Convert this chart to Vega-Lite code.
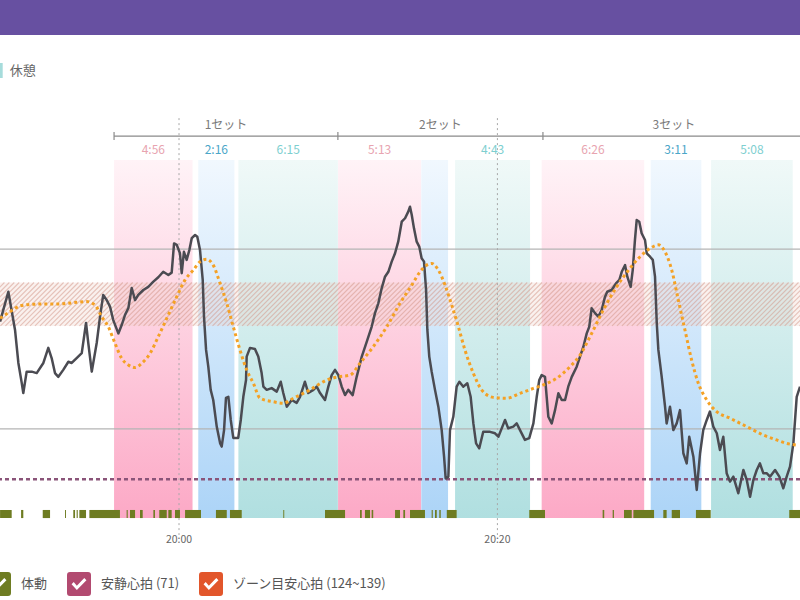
{
  "$schema": "https://vega.github.io/schema/vega-lite/v6.json",
  "width": 800,
  "height": 600,
  "autosize": {"type": "none"},
  "padding": 0,
  "background": "white",
  "datasets": {
    "phases": [
      {"type": "運動", "start": -4.08, "end": 0.85, "label": "4:56"},
      {"type": "インターバル", "start": 1.21, "end": 3.48, "label": "2:16"},
      {"type": "休憩", "start": 3.73, "end": 9.98, "label": "6:15"},
      {"type": "運動", "start": 9.99, "end": 15.21, "label": "5:13"},
      {"type": "インターバル", "start": 15.22, "end": 16.9, "label": null},
      {"type": "休憩", "start": 17.34, "end": 22.05, "label": "4:43"},
      {"type": "運動", "start": 22.78, "end": 29.22, "label": "6:26"},
      {"type": "インターバル", "start": 29.63, "end": 32.81, "label": "3:11"},
      {"type": "休憩", "start": 33.42, "end": 38.55, "label": "5:08"}
    ],
    "sets": [
      {"set": "1セット", "start": -4.08, "end": 9.98},
      {"set": "2セット", "start": 9.98, "end": 22.86},
      {"set": "3セット", "start": 22.86, "end": 39.3}
    ],
    "moves": [
      {"start": -11.24, "end": -10.51}, {"start": -9.92, "end": -9.78}, {"start": -8.56, "end": -8.1},
      {"start": -7.16, "end": -7.1}, {"start": -6.64, "end": -6.53}, {"start": -6.43, "end": -6.36},
      {"start": -6.26, "end": -5.84}, {"start": -5.63, "end": -3.71}, {"start": -3.29, "end": -3.22},
      {"start": -3.08, "end": -2.76}, {"start": -2.45, "end": -2.28}, {"start": -1.61, "end": -1.51},
      {"start": -1.24, "end": -0.77}, {"start": -0.67, "end": -0.46}, {"start": -0.25, "end": 0.06},
      {"start": 0.38, "end": 1.38}, {"start": 2.32, "end": 3.0}, {"start": 3.2, "end": 3.94},
      {"start": 6.55, "end": 6.61}, {"start": 9.17, "end": 10.43}, {"start": 11.37, "end": 11.48},
      {"start": 11.68, "end": 12.0}, {"start": 12.1, "end": 12.2}, {"start": 13.57, "end": 13.88},
      {"start": 14.09, "end": 14.2}, {"start": 14.51, "end": 15.45}, {"start": 15.87, "end": 15.94},
      {"start": 16.08, "end": 16.19}, {"start": 16.35, "end": 16.44}, {"start": 16.82, "end": 17.44},
      {"start": 22.0, "end": 22.99}, {"start": 26.61, "end": 26.71}, {"start": 27.24, "end": 27.32},
      {"start": 27.95, "end": 28.44}, {"start": 28.54, "end": 29.84}, {"start": 30.42, "end": 30.63},
      {"start": 30.95, "end": 31.47}, {"start": 32.47, "end": 33.4}, {"start": 38.33, "end": 39.01}
    ],
    "hr": [
      {"t": -11.24, "hr": 125.5}, {"t": -10.72, "hr": 135.8}, {"t": -10.3, "hr": 122.6}, {"t": -10.09, "hr": 111.2},
      {"t": -9.88, "hr": 104.3}, {"t": -9.78, "hr": 100.8}, {"t": -9.57, "hr": 108.2}, {"t": -9.25, "hr": 108.2},
      {"t": -8.94, "hr": 107.7}, {"t": -8.52, "hr": 111.2}, {"t": -8.21, "hr": 116.4}, {"t": -8.0, "hr": 112.9},
      {"t": -7.79, "hr": 107.7}, {"t": -7.58, "hr": 106.4}, {"t": -7.27, "hr": 108.8}, {"t": -6.95, "hr": 111.6},
      {"t": -6.74, "hr": 111.2}, {"t": -6.43, "hr": 112.9}, {"t": -6.11, "hr": 114.6}, {"t": -5.84, "hr": 125.0},
      {"t": -5.7, "hr": 118.1}, {"t": -5.48, "hr": 108.2}, {"t": -5.17, "hr": 118.1}, {"t": -4.96, "hr": 127.2},
      {"t": -4.76, "hr": 134.7}, {"t": -4.54, "hr": 132.9}, {"t": -4.33, "hr": 130.6}, {"t": -4.13, "hr": 126.0},
      {"t": -3.81, "hr": 121.4}, {"t": -3.6, "hr": 124.3}, {"t": -3.39, "hr": 127.8}, {"t": -3.18, "hr": 130.2},
      {"t": -2.97, "hr": 137.1}, {"t": -2.76, "hr": 132.9}, {"t": -2.56, "hr": 134.7}, {"t": -2.24, "hr": 136.4},
      {"t": -1.93, "hr": 137.5}, {"t": -1.61, "hr": 139.3}, {"t": -1.3, "hr": 140.8}, {"t": -0.99, "hr": 142.7},
      {"t": -0.67, "hr": 141.6}, {"t": -0.46, "hr": 142.4}, {"t": -0.31, "hr": 152.5}, {"t": -0.14, "hr": 152.0},
      {"t": 0.06, "hr": 149.1}, {"t": 0.17, "hr": 142.2}, {"t": 0.31, "hr": 149.6}, {"t": 0.48, "hr": 146.8},
      {"t": 0.65, "hr": 150.2}, {"t": 0.8, "hr": 154.3}, {"t": 1.01, "hr": 155.4}, {"t": 1.15, "hr": 154.8},
      {"t": 1.32, "hr": 150.2}, {"t": 1.49, "hr": 139.9}, {"t": 1.57, "hr": 127.2}, {"t": 1.7, "hr": 115.7},
      {"t": 1.84, "hr": 109.9}, {"t": 1.99, "hr": 101.9}, {"t": 2.15, "hr": 98.4}, {"t": 2.37, "hr": 89.2},
      {"t": 2.58, "hr": 83.5}, {"t": 2.68, "hr": 82.3}, {"t": 2.83, "hr": 88.0}, {"t": 2.95, "hr": 99.1},
      {"t": 3.1, "hr": 99.5}, {"t": 3.25, "hr": 91.5}, {"t": 3.41, "hr": 85.3}, {"t": 3.72, "hr": 85.3},
      {"t": 3.88, "hr": 91.5}, {"t": 4.04, "hr": 99.5}, {"t": 4.21, "hr": 105.3}, {"t": 4.25, "hr": 113.4},
      {"t": 4.46, "hr": 116.4}, {"t": 4.77, "hr": 116.0}, {"t": 4.98, "hr": 113.4}, {"t": 5.19, "hr": 107.7},
      {"t": 5.3, "hr": 103.0}, {"t": 5.51, "hr": 101.9}, {"t": 5.82, "hr": 102.5}, {"t": 6.14, "hr": 101.3},
      {"t": 6.39, "hr": 104.7}, {"t": 6.55, "hr": 100.8}, {"t": 6.77, "hr": 96.1}, {"t": 7.08, "hr": 98.4},
      {"t": 7.39, "hr": 97.4}, {"t": 7.6, "hr": 99.5}, {"t": 7.91, "hr": 104.7}, {"t": 8.12, "hr": 100.8},
      {"t": 8.44, "hr": 101.9}, {"t": 8.65, "hr": 103.0}, {"t": 8.86, "hr": 100.8}, {"t": 9.17, "hr": 98.4},
      {"t": 9.38, "hr": 103.0}, {"t": 9.59, "hr": 107.0}, {"t": 9.8, "hr": 108.8}, {"t": 10.01, "hr": 107.0},
      {"t": 10.22, "hr": 103.0}, {"t": 10.43, "hr": 100.1}, {"t": 10.63, "hr": 101.9}, {"t": 10.91, "hr": 100.1},
      {"t": 11.16, "hr": 106.4}, {"t": 11.48, "hr": 113.4}, {"t": 11.79, "hr": 118.5}, {"t": 12.1, "hr": 123.7},
      {"t": 12.31, "hr": 128.4}, {"t": 12.52, "hr": 131.8}, {"t": 12.73, "hr": 137.0}, {"t": 12.94, "hr": 141.0},
      {"t": 13.15, "hr": 142.7}, {"t": 13.36, "hr": 146.2}, {"t": 13.57, "hr": 149.1}, {"t": 13.77, "hr": 153.1},
      {"t": 13.99, "hr": 160.0}, {"t": 14.2, "hr": 161.2}, {"t": 14.4, "hr": 163.5}, {"t": 14.51, "hr": 165.2},
      {"t": 14.62, "hr": 162.3}, {"t": 14.76, "hr": 157.7}, {"t": 14.93, "hr": 153.1}, {"t": 15.09, "hr": 151.4},
      {"t": 15.24, "hr": 147.4}, {"t": 15.39, "hr": 146.2}, {"t": 15.52, "hr": 136.4}, {"t": 15.6, "hr": 122.6},
      {"t": 15.72, "hr": 113.4}, {"t": 15.87, "hr": 108.2}, {"t": 16.08, "hr": 101.9}, {"t": 16.29, "hr": 96.1},
      {"t": 16.5, "hr": 88.0}, {"t": 16.65, "hr": 78.8}, {"t": 16.75, "hr": 71.3}, {"t": 16.92, "hr": 71.9},
      {"t": 17.02, "hr": 88.0}, {"t": 17.23, "hr": 92.6}, {"t": 17.44, "hr": 103.0}, {"t": 17.61, "hr": 104.7},
      {"t": 17.86, "hr": 103.0}, {"t": 18.11, "hr": 104.2}, {"t": 18.32, "hr": 99.5}, {"t": 18.49, "hr": 90.3},
      {"t": 18.66, "hr": 83.4}, {"t": 18.86, "hr": 81.7}, {"t": 19.11, "hr": 87.4}, {"t": 19.54, "hr": 87.4},
      {"t": 19.85, "hr": 86.9}, {"t": 20.06, "hr": 85.7}, {"t": 20.27, "hr": 88.6}, {"t": 20.48, "hr": 91.5},
      {"t": 20.68, "hr": 88.6}, {"t": 21.0, "hr": 89.2}, {"t": 21.21, "hr": 90.3}, {"t": 21.42, "hr": 88.0},
      {"t": 21.73, "hr": 84.6}, {"t": 22.0, "hr": 85.2}, {"t": 22.26, "hr": 90.3}, {"t": 22.47, "hr": 99.5},
      {"t": 22.63, "hr": 105.3}, {"t": 22.78, "hr": 107.0}, {"t": 22.99, "hr": 106.4}, {"t": 23.2, "hr": 92.6},
      {"t": 23.41, "hr": 90.3}, {"t": 23.62, "hr": 94.9}, {"t": 23.83, "hr": 100.7}, {"t": 24.04, "hr": 98.4},
      {"t": 24.25, "hr": 98.4}, {"t": 24.45, "hr": 103.0}, {"t": 24.67, "hr": 106.4}, {"t": 24.98, "hr": 109.9},
      {"t": 25.19, "hr": 113.4}, {"t": 25.4, "hr": 116.8}, {"t": 25.61, "hr": 121.4}, {"t": 25.77, "hr": 123.7},
      {"t": 25.92, "hr": 130.1}, {"t": 26.13, "hr": 128.4}, {"t": 26.34, "hr": 127.2}, {"t": 26.55, "hr": 129.5},
      {"t": 26.76, "hr": 134.1}, {"t": 26.9, "hr": 135.8}, {"t": 27.18, "hr": 136.4}, {"t": 27.45, "hr": 138.7},
      {"t": 27.66, "hr": 139.9}, {"t": 27.81, "hr": 142.7}, {"t": 28.02, "hr": 145.0}, {"t": 28.16, "hr": 141.0},
      {"t": 28.37, "hr": 137.5}, {"t": 28.5, "hr": 143.3}, {"t": 28.64, "hr": 153.7}, {"t": 28.75, "hr": 160.6},
      {"t": 28.91, "hr": 160.0}, {"t": 29.06, "hr": 156.0}, {"t": 29.27, "hr": 153.7}, {"t": 29.38, "hr": 149.1},
      {"t": 29.59, "hr": 147.9}, {"t": 29.76, "hr": 146.8}, {"t": 29.9, "hr": 141.0}, {"t": 30.01, "hr": 124.9},
      {"t": 30.11, "hr": 115.7}, {"t": 30.32, "hr": 106.4}, {"t": 30.53, "hr": 96.1}, {"t": 30.63, "hr": 90.3},
      {"t": 30.84, "hr": 96.1}, {"t": 31.05, "hr": 88.0}, {"t": 31.26, "hr": 90.3}, {"t": 31.47, "hr": 94.9},
      {"t": 31.68, "hr": 80.0}, {"t": 31.89, "hr": 76.5}, {"t": 32.05, "hr": 85.7}, {"t": 32.31, "hr": 78.8},
      {"t": 32.52, "hr": 67.3}, {"t": 32.73, "hr": 80.0}, {"t": 32.93, "hr": 88.0}, {"t": 33.15, "hr": 91.5},
      {"t": 33.35, "hr": 94.4}, {"t": 33.56, "hr": 89.2}, {"t": 33.78, "hr": 86.9}, {"t": 33.98, "hr": 81.1},
      {"t": 34.19, "hr": 85.7}, {"t": 34.4, "hr": 73.1}, {"t": 34.61, "hr": 70.2}, {"t": 34.82, "hr": 71.9},
      {"t": 35.13, "hr": 66.2}, {"t": 35.45, "hr": 74.2}, {"t": 35.66, "hr": 70.8}, {"t": 35.87, "hr": 65.0},
      {"t": 36.08, "hr": 70.8}, {"t": 36.29, "hr": 74.2}, {"t": 36.49, "hr": 76.5}, {"t": 36.7, "hr": 73.1},
      {"t": 36.91, "hr": 73.1}, {"t": 37.12, "hr": 71.9}, {"t": 37.44, "hr": 74.2}, {"t": 37.71, "hr": 71.9},
      {"t": 37.96, "hr": 67.9}, {"t": 38.17, "hr": 71.9}, {"t": 38.38, "hr": 75.4}, {"t": 38.59, "hr": 83.4},
      {"t": 38.8, "hr": 99.5}, {"t": 39.01, "hr": 103.0}
    ],
    "smooth": [
      {"t": -11.24, "hr": 126.6}, {"t": -10.62, "hr": 128.9}, {"t": -9.99, "hr": 130.9}, {"t": -9.15, "hr": 131.5},
      {"t": -7.47, "hr": 131.6}, {"t": -5.8, "hr": 132.4}, {"t": -5.28, "hr": 131.2}, {"t": -4.86, "hr": 127.2},
      {"t": -4.44, "hr": 123.7}, {"t": -4.02, "hr": 118.0}, {"t": -3.6, "hr": 112.8}, {"t": -3.18, "hr": 110.5},
      {"t": -2.76, "hr": 109.6}, {"t": -2.34, "hr": 111.1}, {"t": -1.82, "hr": 114.5}, {"t": -1.3, "hr": 120.3},
      {"t": -0.77, "hr": 126.6}, {"t": -0.14, "hr": 134.1}, {"t": 0.38, "hr": 139.9}, {"t": 0.9, "hr": 143.3},
      {"t": 1.32, "hr": 146.2}, {"t": 1.74, "hr": 147.0}, {"t": 2.15, "hr": 145.0}, {"t": 2.58, "hr": 138.7},
      {"t": 3.0, "hr": 131.8}, {"t": 3.41, "hr": 123.7}, {"t": 3.83, "hr": 115.7}, {"t": 4.25, "hr": 108.8},
      {"t": 4.67, "hr": 104.2}, {"t": 5.09, "hr": 99.0}, {"t": 5.92, "hr": 97.8}, {"t": 6.55, "hr": 97.3},
      {"t": 7.18, "hr": 99.0}, {"t": 8.23, "hr": 101.9}, {"t": 9.28, "hr": 105.3}, {"t": 10.11, "hr": 106.5},
      {"t": 10.74, "hr": 107.0}, {"t": 11.37, "hr": 111.1}, {"t": 12.2, "hr": 116.8}, {"t": 13.05, "hr": 123.7},
      {"t": 13.88, "hr": 131.8}, {"t": 14.62, "hr": 138.1}, {"t": 15.14, "hr": 142.7}, {"t": 15.56, "hr": 145.0},
      {"t": 15.87, "hr": 145.6}, {"t": 16.29, "hr": 143.3}, {"t": 16.71, "hr": 138.1}, {"t": 17.13, "hr": 131.2},
      {"t": 17.55, "hr": 123.7}, {"t": 17.96, "hr": 115.7}, {"t": 18.49, "hr": 107.6}, {"t": 19.01, "hr": 101.9},
      {"t": 19.74, "hr": 99.3}, {"t": 20.58, "hr": 99.0}, {"t": 21.42, "hr": 100.7}, {"t": 22.26, "hr": 102.4},
      {"t": 22.88, "hr": 103.6}, {"t": 23.72, "hr": 105.9}, {"t": 24.56, "hr": 109.9}, {"t": 25.19, "hr": 113.9},
      {"t": 25.82, "hr": 120.3}, {"t": 26.65, "hr": 129.5}, {"t": 27.49, "hr": 137.5}, {"t": 28.33, "hr": 143.9},
      {"t": 28.96, "hr": 147.9}, {"t": 29.59, "hr": 150.8}, {"t": 30.11, "hr": 152.0}, {"t": 30.53, "hr": 149.6},
      {"t": 30.95, "hr": 143.3}, {"t": 31.36, "hr": 133.0}, {"t": 31.78, "hr": 122.6}, {"t": 32.2, "hr": 112.2},
      {"t": 32.62, "hr": 104.2}, {"t": 33.15, "hr": 98.4}, {"t": 33.77, "hr": 94.4}, {"t": 34.61, "hr": 92.1},
      {"t": 35.66, "hr": 89.2}, {"t": 36.7, "hr": 86.3}, {"t": 37.54, "hr": 84.6}, {"t": 38.17, "hr": 83.4},
      {"t": 38.8, "hr": 82.8}
    ]
  },
  "layer": [
    {
      "data": {"name": "phases"},
      "transform": [{"filter": "datum.type === '運動'"}],
      "mark": {"type": "rect", "color": {"gradient": "linear", "x1": 0, "y1": 0, "x2": 0, "y2": 1, "stops": [{"offset": 0, "color": "#fff3f7"}, {"offset": 1, "color": "#fca9c6"}]}},
      "encoding": {
        "x": {"field": "start", "type": "quantitative", "scale": {"domain": [-11.244, 39.007], "nice": false, "zero": false}, "axis": null},
        "x2": {"field": "end"},
        "y": {"datum": 181.3, "type": "quantitative", "scale": {"domain": [29.29, 236.61], "nice": false, "zero": false}, "axis": null},
        "y2": {"datum": 57.6}
      }
    },
    {
      "data": {"name": "phases"},
      "transform": [{"filter": "datum.type === 'インターバル'"}],
      "mark": {"type": "rect", "color": {"gradient": "linear", "x1": 0, "y1": 0, "x2": 0, "y2": 1, "stops": [{"offset": 0, "color": "#f1f8fe"}, {"offset": 1, "color": "#acd4f7"}]}},
      "encoding": {
        "x": {"field": "start", "type": "quantitative"},
        "x2": {"field": "end"},
        "y": {"datum": 181.3, "type": "quantitative"},
        "y2": {"datum": 57.6}
      }
    },
    {
      "data": {"name": "phases"},
      "transform": [{"filter": "datum.type === '休憩'"}],
      "mark": {"type": "rect", "color": {"gradient": "linear", "x1": 0, "y1": 0, "x2": 0, "y2": 1, "stops": [{"offset": 0, "color": "#f0f9f8"}, {"offset": 1, "color": "#b0dfe0"}]}},
      "encoding": {
        "x": {"field": "start", "type": "quantitative"},
        "x2": {"field": "end"},
        "y": {"datum": 181.3, "type": "quantitative"},
        "y2": {"datum": 57.6}
      }
    },
    {
      "data": {"values": [{"lo": 124, "hi": 139}]},
      "mark": {"type": "rect", "color": "#f0cfc6", "opacity": 0.3},
      "encoding": {
        "y": {"field": "hi", "type": "quantitative"},
        "y2": {"field": "lo"}
      }
    },
    {
      "data": {"values": [{"lo": 124, "hi": 139}]},
      "mark": {
        "type": "point",
        "filled": false,
        "opacity": 0.5,
        "color": "#d39486",
        "strokeWidth": 1.1,
        "size": 3.892,
        "shape": "M-450,22l44,-44m-39,44l44,-44m-39,44l44,-44m-39,44l44,-44m-39,44l44,-44m-39,44l44,-44m-39,44l44,-44m-39,44l44,-44m-39,44l44,-44m-39,44l44,-44m-39,44l44,-44m-39,44l44,-44m-39,44l44,-44m-39,44l44,-44m-39,44l44,-44m-39,44l44,-44m-39,44l44,-44m-39,44l44,-44m-39,44l44,-44m-39,44l44,-44m-39,44l44,-44m-39,44l44,-44m-39,44l44,-44m-39,44l44,-44m-39,44l44,-44m-39,44l44,-44m-39,44l44,-44m-39,44l44,-44m-39,44l44,-44m-39,44l44,-44m-39,44l44,-44m-39,44l44,-44m-39,44l44,-44m-39,44l44,-44m-39,44l44,-44m-39,44l44,-44m-39,44l44,-44m-39,44l44,-44m-39,44l44,-44m-39,44l44,-44m-39,44l44,-44m-39,44l44,-44m-39,44l44,-44m-39,44l44,-44m-39,44l44,-44m-39,44l44,-44m-39,44l44,-44m-39,44l44,-44m-39,44l44,-44m-39,44l44,-44m-39,44l44,-44m-39,44l44,-44m-39,44l44,-44m-39,44l44,-44m-39,44l44,-44m-39,44l44,-44m-39,44l44,-44m-39,44l44,-44m-39,44l44,-44m-39,44l44,-44m-39,44l44,-44m-39,44l44,-44m-39,44l44,-44m-39,44l44,-44m-39,44l44,-44m-39,44l44,-44m-39,44l44,-44m-39,44l44,-44m-39,44l44,-44m-39,44l44,-44m-39,44l44,-44m-39,44l44,-44m-39,44l44,-44m-39,44l44,-44m-39,44l44,-44m-39,44l44,-44m-39,44l44,-44m-39,44l44,-44m-39,44l44,-44m-39,44l44,-44m-39,44l44,-44m-39,44l44,-44m-39,44l44,-44m-39,44l44,-44m-39,44l44,-44m-39,44l44,-44m-39,44l44,-44m-39,44l44,-44m-39,44l44,-44m-39,44l44,-44m-39,44l44,-44m-39,44l44,-44m-39,44l44,-44m-39,44l44,-44m-39,44l44,-44m-39,44l44,-44m-39,44l44,-44m-39,44l44,-44m-39,44l44,-44m-39,44l44,-44m-39,44l44,-44m-39,44l44,-44m-39,44l44,-44m-39,44l44,-44m-39,44l44,-44m-39,44l44,-44m-39,44l44,-44m-39,44l44,-44m-39,44l44,-44m-39,44l44,-44m-39,44l44,-44m-39,44l44,-44m-39,44l44,-44m-39,44l44,-44m-39,44l44,-44m-39,44l44,-44m-39,44l44,-44m-39,44l44,-44m-39,44l44,-44m-39,44l44,-44m-39,44l44,-44m-39,44l44,-44m-39,44l44,-44m-39,44l44,-44m-39,44l44,-44m-39,44l44,-44m-39,44l44,-44m-39,44l44,-44m-39,44l44,-44m-39,44l44,-44m-39,44l44,-44m-39,44l44,-44m-39,44l44,-44m-39,44l44,-44m-39,44l44,-44m-39,44l44,-44m-39,44l44,-44m-39,44l44,-44m-39,44l44,-44m-39,44l44,-44m-39,44l44,-44m-39,44l44,-44m-39,44l44,-44m-39,44l44,-44m-39,44l44,-44m-39,44l44,-44m-39,44l44,-44m-39,44l44,-44m-39,44l44,-44m-39,44l44,-44m-39,44l44,-44m-39,44l44,-44m-39,44l44,-44m-39,44l44,-44m-39,44l44,-44m-39,44l44,-44m-39,44l44,-44m-39,44l44,-44m-39,44l44,-44m-39,44l44,-44m-39,44l44,-44m-39,44l44,-44m-39,44l44,-44m-39,44l44,-44m-39,44l44,-44m-39,44l44,-44m-39,44l44,-44m-39,44l44,-44m-39,44l44,-44m-39,44l44,-44m-39,44l44,-44m-39,44l44,-44m-39,44l44,-44m-39,44l44,-44m-39,44l44,-44m-39,44l44,-44m-39,44l44,-44m-39,44l44,-44m-39,44l44,-44m-39,44l44,-44m-39,44l44,-44m-39,44l44,-44m-39,44l44,-44m-39,44l44,-44m-39,44l44,-44m-39,44"
      },
      "encoding": {
        "x": {"datum": 13.88, "type": "quantitative"},
        "y": {"datum": 131.5, "type": "quantitative"}
      }
    },
    {
      "data": {"values": [{"hr": 150.5}, {"hr": 88.4}]},
      "mark": {"type": "rule", "color": "#b4b4b4", "strokeWidth": 1.2},
      "encoding": {"y": {"field": "hr", "type": "quantitative"}}
    },
    {
      "data": {"values": [{"t": 0, "label": "20:00"}, {"t": 20, "label": "20:20"}]},
      "mark": {"type": "rule", "color": "#a8a8a8", "strokeWidth": 1, "strokeDash": [2, 3]},
      "encoding": {
        "x": {"field": "t", "type": "quantitative"},
        "y": {"datum": 195.8, "type": "quantitative"},
        "y2": {"datum": 51.75}
      }
    },
    {
      "data": {"values": [{"hr": 71}]},
      "mark": {"type": "rule", "color": "#8a5479", "strokeWidth": 2.5, "strokeDash": [4, 3]},
      "encoding": {"y": {"field": "hr", "type": "quantitative"}}
    },
    {
      "data": {"name": "moves"},
      "mark": {"type": "rect", "color": "#6e7c22"},
      "encoding": {
        "x": {"field": "start", "type": "quantitative"},
        "x2": {"field": "end"},
        "y": {"datum": 60.4, "type": "quantitative"},
        "y2": {"datum": 57.6}
      }
    },
    {
      "data": {"name": "hr"},
      "mark": {"type": "line", "color": "#4b4b52", "strokeWidth": 2.5, "strokeJoin": "round"},
      "encoding": {
        "x": {"field": "t", "type": "quantitative"},
        "y": {"field": "hr", "type": "quantitative"}
      }
    },
    {
      "data": {"name": "smooth"},
      "mark": {"type": "line", "color": "#f4a125", "strokeWidth": 3, "strokeDash": [3, 3], "interpolate": "monotone"},
      "encoding": {
        "x": {"field": "t", "type": "quantitative"},
        "y": {"field": "hr", "type": "quantitative"}
      }
    },
    {
      "data": {"name": "sets"},
      "mark": {"type": "rule", "color": "#8a8a8a", "strokeWidth": 1.2},
      "encoding": {
        "x": {"field": "start", "type": "quantitative"},
        "x2": {"field": "end"},
        "y": {"datum": 189.6, "type": "quantitative"}
      }
    },
    {
      "data": {"name": "sets"},
      "mark": {"type": "rule", "color": "#8a8a8a", "strokeWidth": 1.2},
      "encoding": {
        "x": {"field": "start", "type": "quantitative"},
        "y": {"datum": 191.0, "type": "quantitative"},
        "y2": {"datum": 188.2}
      }
    },
    {
      "data": {"name": "sets"},
      "transform": [
        {"fold": ["start", "end"], "as": ["k", "v"]},
        {"aggregate": [{"op": "mean", "field": "v", "as": "mid"}], "groupby": ["set"]}
      ],
      "mark": {"type": "text", "font": "Noto Sans CJK JP", "fontSize": 12, "color": "#7a7a7a"},
      "encoding": {
        "x": {"field": "mid", "type": "quantitative"},
        "y": {"datum": 193.4, "type": "quantitative"},
        "text": {"field": "set"}
      }
    },
    {
      "data": {"name": "phases"},
      "transform": [
        {"filter": "isValid(datum.label)"},
        {"fold": ["start", "end"], "as": ["k", "v"]},
        {"aggregate": [{"op": "mean", "field": "v", "as": "mid"}], "groupby": ["label", "type"]}
      ],
      "mark": {"type": "text", "font": "Noto Sans CJK JP", "fontSize": 12},
      "encoding": {
        "x": {"field": "mid", "type": "quantitative"},
        "y": {"datum": 184.8, "type": "quantitative"},
        "text": {"field": "label"},
        "color": {
          "condition": [
            {"test": "datum.type === '運動'", "value": "#e8a4b0"},
            {"test": "datum.type === 'インターバル'", "value": "#4aa6c8"}
          ],
          "value": "#7ecfd0"
        }
      }
    },
    {
      "data": {"values": [{"t": 0, "label": "20:00"}, {"t": 20, "label": "20:20"}]},
      "mark": {"type": "text", "font": "Noto Sans CJK JP", "fontSize": 10.5, "color": "#666666"},
      "encoding": {
        "x": {"field": "t", "type": "quantitative"},
        "y": {"datum": 50.0, "type": "quantitative"},
        "text": {"field": "label"}
      }
    },
    {
      "data": {"values": [{"part": "header"}]},
      "mark": {"type": "rect", "color": "#6750a1"},
      "encoding": {
        "x": {"datum": -12, "type": "quantitative"},
        "x2": {"datum": 40},
        "y": {"datum": 224.5, "type": "quantitative"},
        "y2": {"datum": 240}
      }
    },
    {
      "data": {"values": [{"k": "休憩"}]},
      "mark": {"type": "point", "filled": true, "opacity": 1},
      "encoding": {
        "x": {"datum": -40, "type": "quantitative"},
        "y": {"datum": 0, "type": "quantitative"},
        "fill": {
          "field": "k",
          "type": "nominal",
          "scale": {"domain": ["休憩"], "range": ["#a6dcdb"]},
          "legend": {
            "orient": "none", "legendX": -12.3, "legendY": 63, "title": null, "padding": 0,
            "symbolType": "square", "symbolSize": 225, "symbolStrokeWidth": 0, "symbolOpacity": 1,
            "labelFont": "Noto Sans CJK JP", "labelFontSize": 13, "labelColor": "#666666", "labelOffset": 7
          }
        }
      }
    },
    {
      "data": {"values": [{"k": "体動"}, {"k": "安静心拍 (71)"}, {"k": "ゾーン目安心拍 (124~139)"}]},
      "mark": {"type": "point", "filled": true, "opacity": 1},
      "encoding": {
        "x": {"datum": -40, "type": "quantitative"},
        "y": {"datum": 0, "type": "quantitative"},
        "color": {
          "field": "k",
          "type": "nominal",
          "scale": {"domain": ["体動", "安静心拍 (71)", "ゾーン目安心拍 (124~139)"], "range": ["#6e7c22", "#b24a70", "#e2562b"]},
          "legend": {
            "orient": "none", "legendX": -13, "legendY": 572, "direction": "horizontal", "title": null, "padding": 0,
            "symbolType": "M-0.75,-1H0.75Q1,-1 1,-0.75V0.75Q1,1 0.75,1H-0.75Q-1,1 -1,0.75V-0.75Q-1,-1 -0.75,-1Z M-0.62,0.02L-0.18,0.5L0.62,-0.32L0.44,-0.5L-0.18,0.14L-0.44,-0.16Z",
            "symbolSize": 576, "symbolStrokeWidth": 0, "symbolOpacity": 1,
            "labelFont": "Noto Sans CJK JP", "labelFontSize": 13, "labelColor": "#555555", "labelOffset": 10,
            "columnPadding": 19, "labelLimit": 400
          }
        }
      }
    }
  ],
  "config": {
    "view": {"stroke": null},
    "axis": {"disable": true},
    "font": "Noto Sans CJK JP"
  }
}
